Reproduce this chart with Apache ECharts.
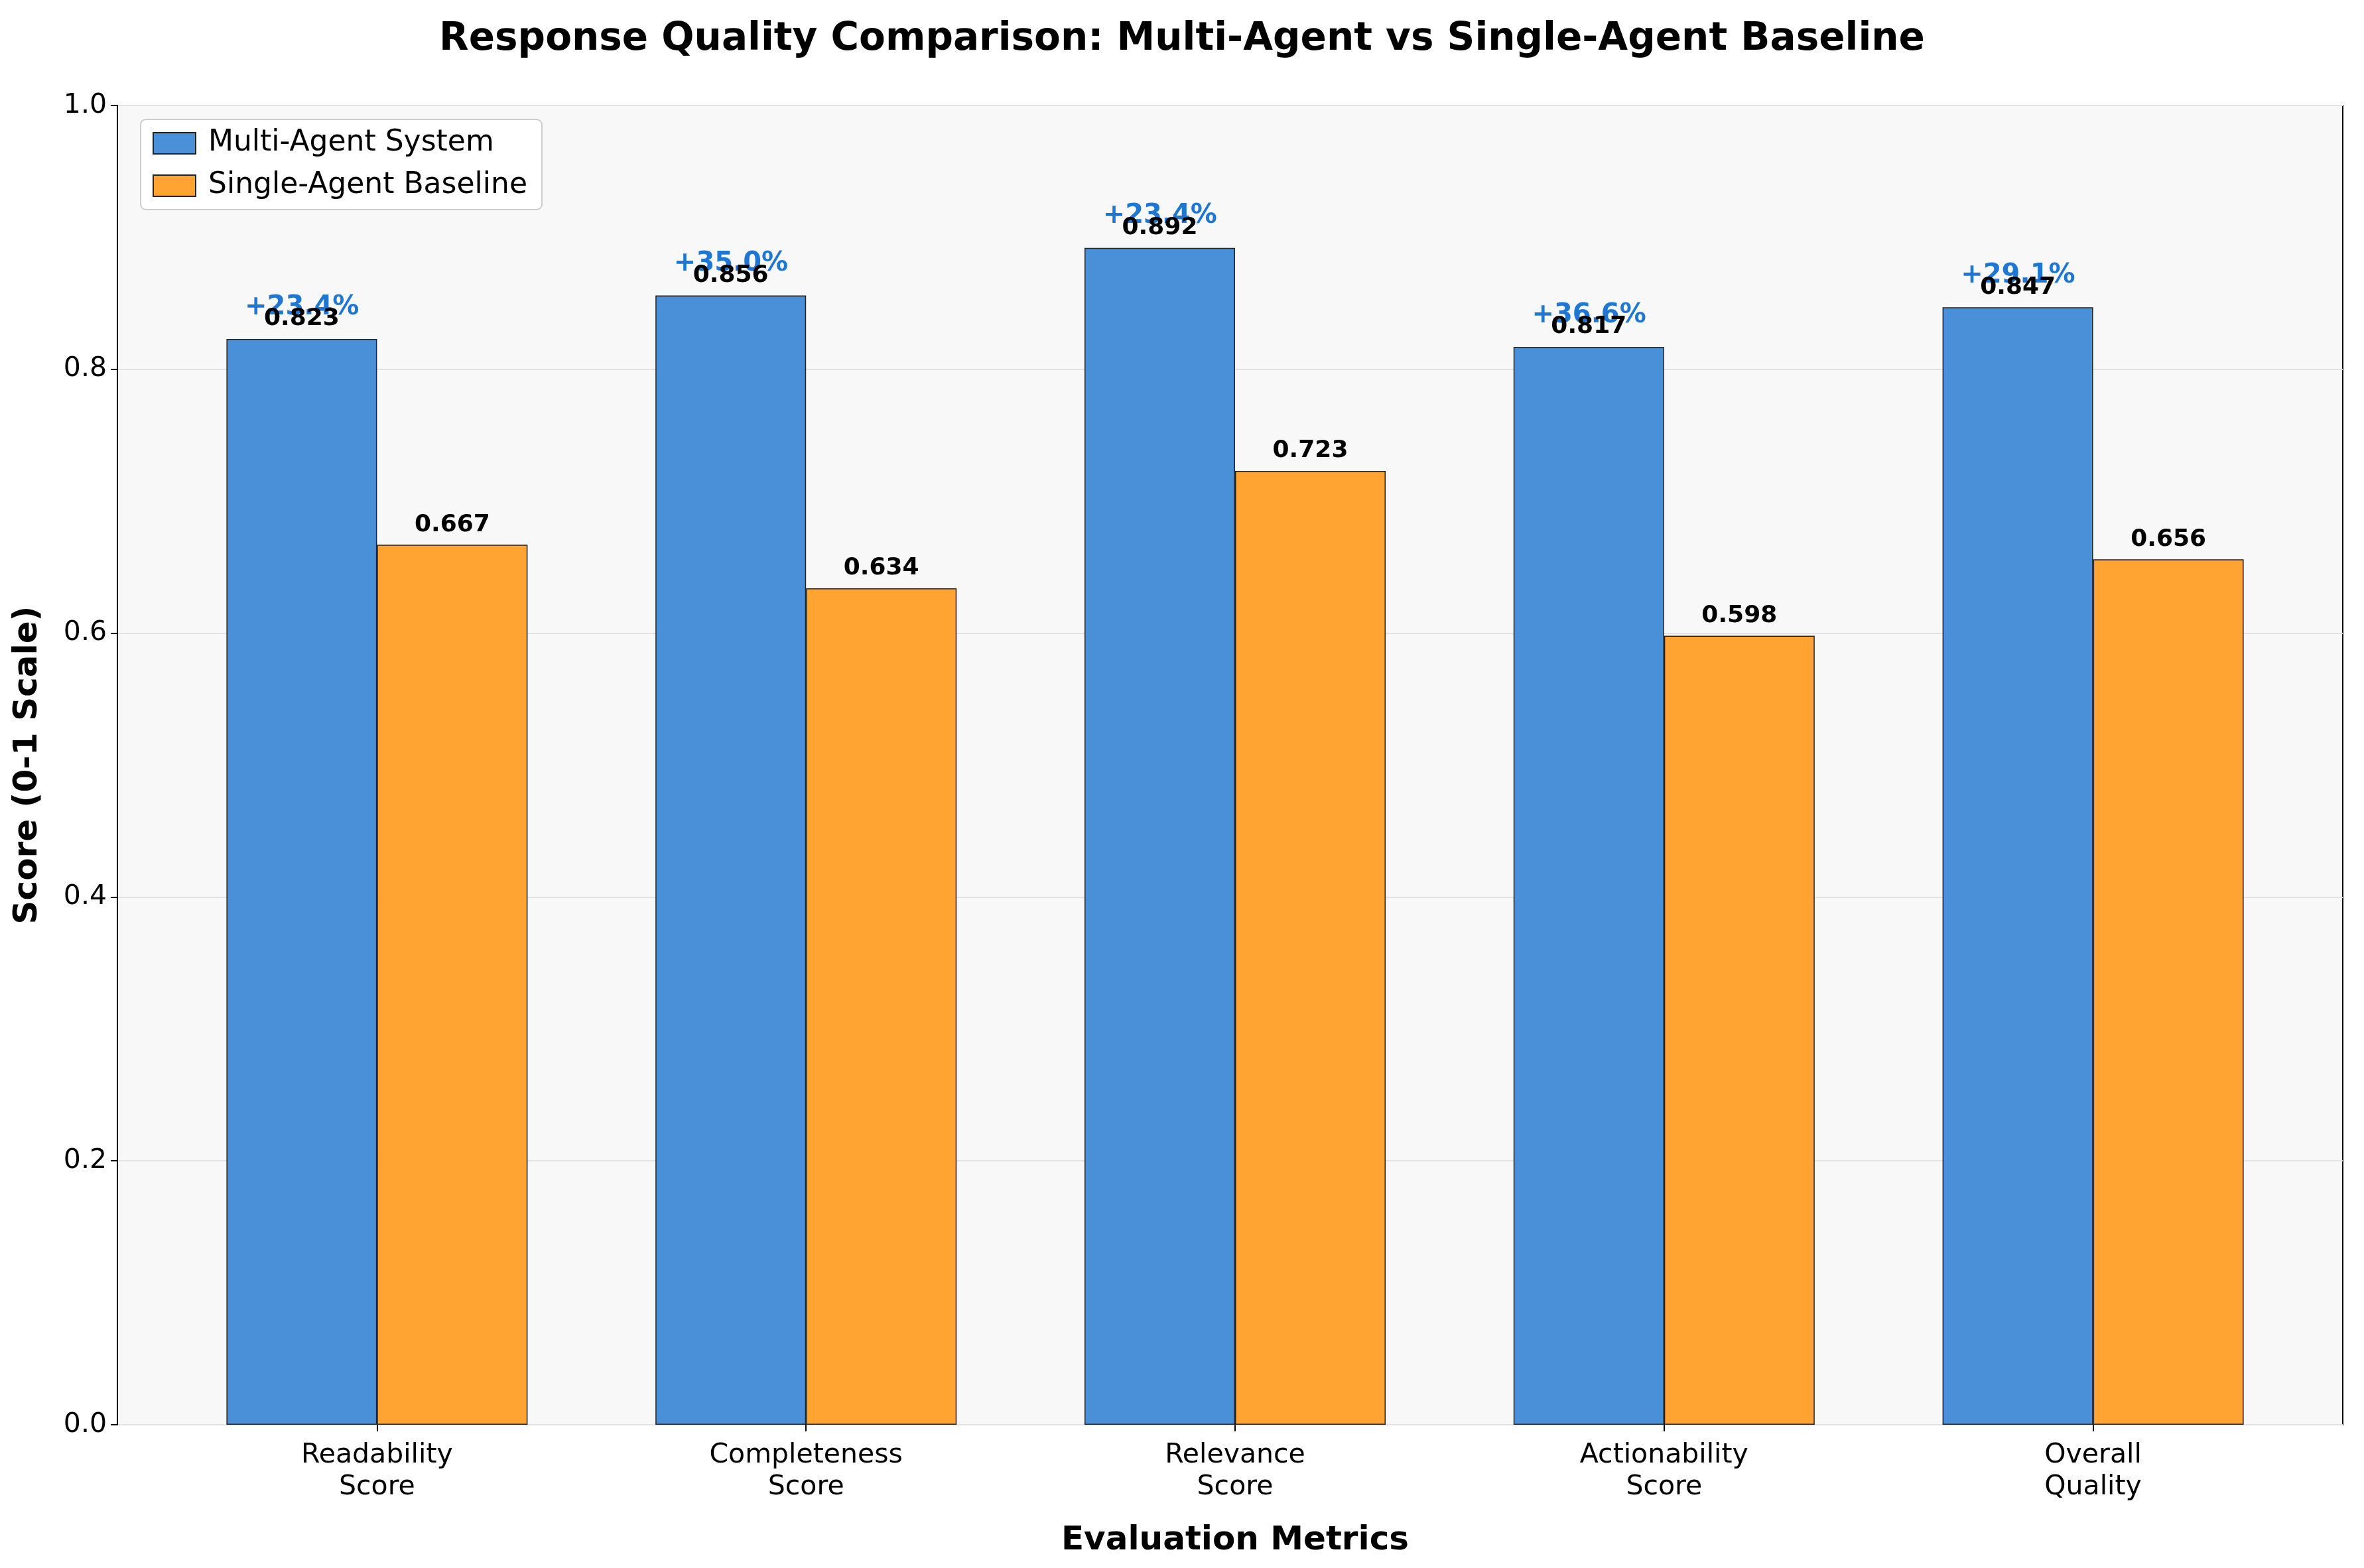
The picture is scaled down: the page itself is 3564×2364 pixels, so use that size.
<!DOCTYPE html>
<html>
<head>
<meta charset="utf-8">
<script src="https://cdn.jsdelivr.net/npm/echarts@6/dist/echarts.min.js"></script>
<style>
  html, body { margin: 0; padding: 0; background: #fff; }
  #chart { width: 3564px; height: 2364px; }
</style>
</head>
<body>
<div id="chart"></div>
<script>
//Données
const metrics = ['Readability\nScore', 'Completeness\nScore', 'Relevance\nScore', 'Actionability\nScore', 'Overall\nQuality'];
const multiAgent = [0.823, 0.856, 0.892, 0.817, 0.847];
const singleAgent = [0.667, 0.634, 0.723, 0.598, 0.656];
const gains = ['+23.4%', '+35.0%', '+23.4%', '+36.6%', '+29.1%'];

const chart = echarts.init(document.getElementById('chart'));
const font = 'DejaVu Sans';

chart.setOption({
  backgroundColor: '#fff',
  textStyle: { fontFamily: font },
  title: {
    text: 'Response Quality Comparison: Multi-Agent vs Single-Agent Baseline',
    left: 'center', top: 26,
    textStyle: { fontSize: 58, fontWeight: 'bold', color: '#000', fontFamily: font }
  },
  legend: {
    left: 212, top: 180, orient: 'vertical', icon: 'rect',
    itemWidth: 64, itemHeight: 32, itemGap: 20,
    backgroundColor: '#fff', borderColor: '#ccc', borderWidth: 2, borderRadius: 8,
    padding: [14, 22, 14, 18],
    textStyle: { fontSize: 44, color: '#000', fontFamily: font, padding: [0, 0, 0, 14] },
    data: ['Multi-Agent System', 'Single-Agent Baseline']
  },
  grid: [
    //cadre du graphique
    { left: 177, right: 32, top: 159, bottom: 216,
      show: true, backgroundColor: '#f8f8f8', borderColor: '#000', borderWidth: 2 },
    //zone des barres (marges comme matplotlib)
    { left: 245, right: 85, top: 159, bottom: 216 }
  ],
  xAxis: [
    { gridIndex: 0, type: 'value', min: 0, max: 1, show: false },
    {
      gridIndex: 1, type: 'category', data: metrics,
      name: 'Evaluation Metrics', nameLocation: 'middle', nameGap: 150,
      nameTextStyle: { fontSize: 50, fontWeight: 'bold', color: '#000' },
      axisLine: { show: false },
      axisTick: { show: true, alignWithLabel: true, length: 10, lineStyle: { color: '#000', width: 2 } },
      axisLabel: { fontSize: 41, color: '#000', margin: 22, lineHeight: 48 }
    }
  ],
  yAxis: [
    {
      gridIndex: 0, type: 'value', min: 0, max: 1, interval: 0.2,
      name: 'Score (0-1 Scale)', nameLocation: 'middle', nameGap: 110,
      nameTextStyle: { fontSize: 50, fontWeight: 'bold', color: '#000' },
      axisLine: { show: true, lineStyle: { color: '#000', width: 2 } },
      axisTick: { show: true, length: 10, lineStyle: { color: '#000', width: 2 } },
      axisLabel: { fontSize: 41, color: '#000', margin: 16, formatter: v => v.toFixed(1) },
      splitLine: { lineStyle: { color: '#e2e2e2', width: 2 } }
    },
    { gridIndex: 1, type: 'value', min: 0, max: 1, show: false }
  ],
  series: [
    {
      name: 'Multi-Agent System', type: 'bar', data: multiAgent,
      xAxisIndex: 1, yAxisIndex: 1,
      barGap: '0%', barWidth: 227,
      itemStyle: { color: '#4a90d9', borderColor: '#222', borderWidth: 1.5 },
      label: { show: true, position: 'top', distance: 12, fontSize: 36, fontWeight: 'bold', color: '#000', formatter: p => p.value.toFixed(3) }
    },
    {
      name: 'Single-Agent Baseline', type: 'bar', data: singleAgent,
      xAxisIndex: 1, yAxisIndex: 1, barWidth: 227,
      itemStyle: { color: '#ffa333', borderColor: '#222', borderWidth: 1.5 },
      label: { show: true, position: 'top', distance: 12, fontSize: 36, fontWeight: 'bold', color: '#000', formatter: p => p.value.toFixed(3) }
    },
    {
      //Pourcentages d'amélioration au-dessus des barres bleues
      type: 'custom', silent: true, z: 1,
      xAxisIndex: 1, yAxisIndex: 1,
      data: multiAgent.map((v, i) => [i, v + 0.024]),
      renderItem: (params, api) => {
        const pt = api.coord([api.value(0), api.value(1)]);
        const bandW = api.size([1, 0])[0];
        return {
          type: 'text',
          style: {
            x: pt[0] - bandW * 0.175, y: pt[1],
            text: gains[params.dataIndex],
            align: 'center', verticalAlign: 'middle',
            fill: '#1f77d4', font: 'bold 40px "DejaVu Sans"'
          }
        };
      }
    }
  ]
});
</script>
</body>
</html>
